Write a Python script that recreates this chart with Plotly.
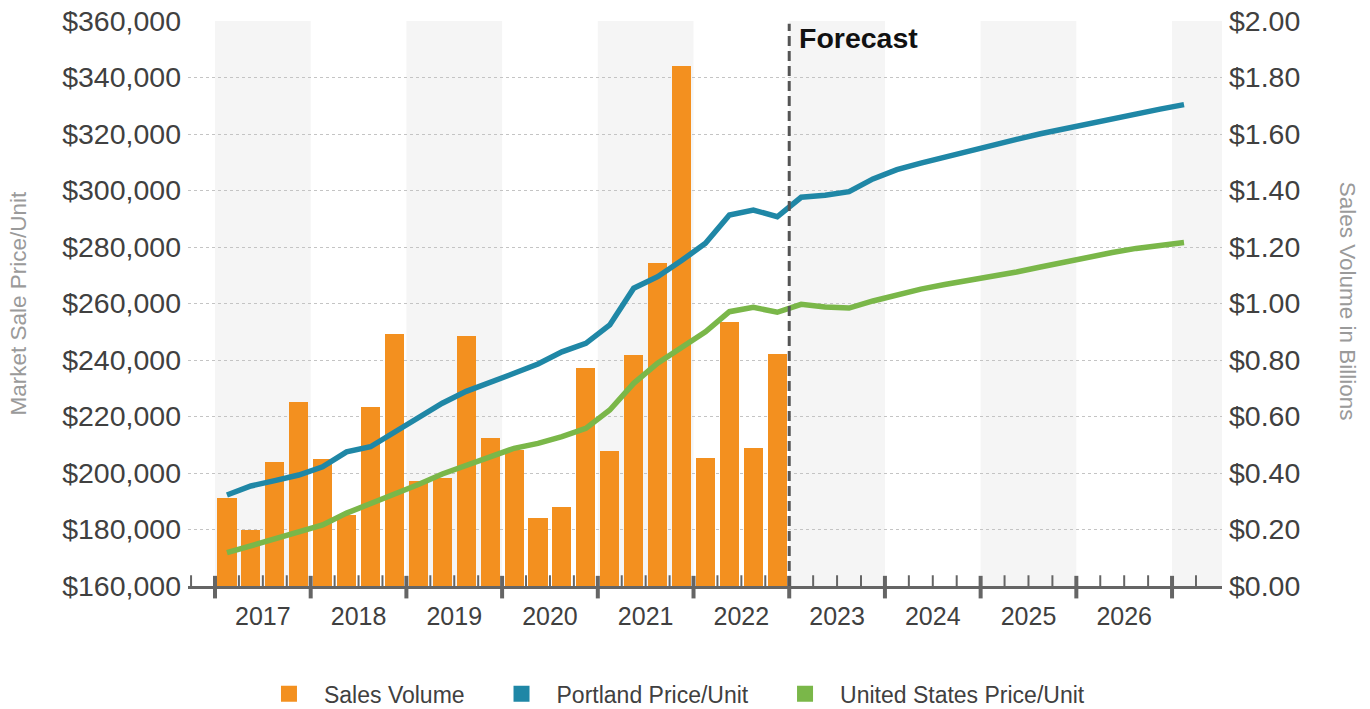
import plotly.graph_objects as go

# Quarterly series, 2017 Q1 onward
start_year = 2017
year_labels = [str(y) for y in range(2017, 2027)]

# Sales volume ($ billions), 2017 Q1 - 2022 Q4
sales_volume_bn = [
    0.313, 0.200, 0.438, 0.650,
    0.451, 0.251, 0.633, 0.892,
    0.373, 0.381, 0.885, 0.525,
    0.481, 0.240, 0.280, 0.771,
    0.478, 0.818, 1.142, 1.842,
    0.453, 0.933, 0.487, 0.820,
]

# Market sale price per unit, 2017 Q1 - 2027 Q1
portland_price = [
    192200, 195400, 197300, 199300,
    202200, 207500, 209300, 214300,
    219400, 224700, 228900, 231900,
    235300, 238600, 242900, 245900,
    252400, 265400, 269500, 275200,
    281300, 291300, 293100, 290700,
    297600, 298300, 299600, 304100,
    307400, 309700, 311900, 313900,
    316000, 318100, 320100, 321900,
    323700, 325500, 327200, 328800,
    330400,
]
us_price = [
    171800, 174200, 176300, 178800,
    181600, 185800, 189000, 192200,
    195900, 199650, 202500, 205700,
    208750, 210500, 212850, 215800,
    222300, 231750, 238850, 244150,
    250000, 257100, 258650, 256900,
    259700, 258800, 258400, 260900,
    263200, 265100, 266700, 268100,
    269600, 271150, 272900, 274700,
    276500, 278050, 279500, 280500,
    281600,
]
forecast_start = 2023

ORANGE = "#F3901F"
BLUE = "#1F87A6"
GREEN = "#7AB749"
TEXT = "#404040"
AXIS = "#656565"


def quarter_centers(n):
    return [start_year + (i + 0.5) / 4 for i in range(n)]


x_bars = quarter_centers(len(sales_volume_bn))
x_lines = quarter_centers(len(portland_price))

fig = go.Figure()

# Bars on the right-hand volume axis (base axis, so lines draw above)
fig.add_trace(go.Bar(
    x=x_bars, y=sales_volume_bn, yaxis="y", width=0.2,
    marker=dict(color=ORANGE, line=dict(width=0)),
    showlegend=False, hoverinfo="skip",
))
fig.add_trace(go.Scatter(
    x=x_lines, y=portland_price, yaxis="y2", mode="lines",
    line=dict(color=BLUE, width=5.5), showlegend=False,
))
fig.add_trace(go.Scatter(
    x=x_lines, y=us_price, yaxis="y2", mode="lines",
    line=dict(color=GREEN, width=5.5), showlegend=False,
))

# Legend entries with square swatches
for name, color, leg in [("Sales Volume", ORANGE, "legend"),
                         ("Portland Price/Unit", BLUE, "legend2"),
                         ("United States Price/Unit", GREEN, "legend3")]:
    fig.add_trace(go.Scatter(
        x=[None], y=[None], mode="markers", name=name, legend=leg,
        marker=dict(symbol="square", size=18, color=color),
    ))

shapes = []
# Alternating year bands
last_year = 2027
for y in range(2017, last_year + 1, 2):
    shapes.append(dict(type="rect", xref="x", yref="paper",
                       x0=y, x1=min(y + 1, 2027.522), y0=0, y1=1,
                       fillcolor="#F5F5F5", line=dict(width=0), layer="below"))
# Year boundary ticks (crossing the axis) and quarter ticks (inside)
for y in range(2017, last_year + 1):
    shapes.append(dict(type="line", xref="x", yref="paper", x0=y, x1=y,
                       y0=-0.022, y1=0.018, line=dict(color=AXIS, width=4)))
for i in range(-1, 42):
    q = start_year + i / 4
    if i % 4 == 0:
        continue
    shapes.append(dict(type="line", xref="x", yref="paper", x0=q, x1=q,
                       y0=0, y1=0.019, line=dict(color=AXIS, width=2)))
# Forecast divider
shapes.append(dict(type="line", xref="x", yref="paper",
                   x0=forecast_start, x1=forecast_start, y0=0, y1=0.995,
                   line=dict(color="#555555", width=3, dash="10px,5px")))

annotations = [
    dict(text="<b>Forecast</b>", x=forecast_start, xref="x", xshift=8,
         y=0.97, yref="paper", xanchor="left", yanchor="middle",
         showarrow=False, font=dict(size=28.5, color="#111111",
                                    family="Liberation Sans, Arial")),
    dict(text="Market Sale Price/Unit", x=-0.1644, xref="paper",
         y=0.5, yref="paper", textangle=-90, showarrow=False,
         xanchor="center", yanchor="middle",
         font=dict(size=22.5, color="#9A9A9A")),
    dict(text="Sales Volume in Billions", x=1.1209, xref="paper",
         y=0.505, yref="paper", textangle=90, showarrow=False,
         xanchor="center", yanchor="middle",
         font=dict(size=22.5, color="#9A9A9A")),
]

price_ticks = list(range(160000, 360001, 20000))
vol_ticks = [round(0.2 * i, 1) for i in range(11)]

legend_common = dict(orientation="h", y=-0.191, yanchor="middle",
                     xanchor="left", bgcolor="rgba(0,0,0,0)",
                     font=dict(size=23, color=TEXT), itemclick=False,
                     itemwidth=60)

fig.update_layout(
    width=1370, height=709,
    margin=dict(l=188, r=148, t=21, b=123, autoexpand=False),
    paper_bgcolor="white", plot_bgcolor="white",
    font=dict(family="Liberation Sans, Arial, sans-serif", color=TEXT),
    bargap=0,
    xaxis=dict(
        range=[2016.718, 2027.522],
        tickvals=[int(t) + 0.5 for t in year_labels], ticktext=year_labels,
        ticks="", showgrid=False, zeroline=False,
        showline=True, linecolor=AXIS, linewidth=3,
        tickfont=dict(size=25, color=TEXT), ticklabelstandoff=6,
    ),
    yaxis=dict(
        side="right", range=[0, 2], tickvals=vol_ticks,
        tickformat="$.2f", showgrid=True, gridcolor="#C4C4C4",
        griddash="dot", gridwidth=1, zeroline=False, showline=False,
        tickfont=dict(size=28.5, color=TEXT), ticks="", ticklabelstandoff=6,
    ),
    yaxis2=dict(
        side="left", overlaying="y", range=[160000, 360000],
        tickvals=price_ticks, tickformat="$,", showgrid=False,
        zeroline=False, showline=False,
        tickfont=dict(size=28.5, color=TEXT), ticks="", ticklabelstandoff=6,
    ),
    legend=dict(x=0.0638, **legend_common),
    legend2=dict(x=0.2887, **legend_common),
    legend3=dict(x=0.5629, **legend_common),
    shapes=shapes,
    annotations=annotations,
)

fig.write_html("out.html")
